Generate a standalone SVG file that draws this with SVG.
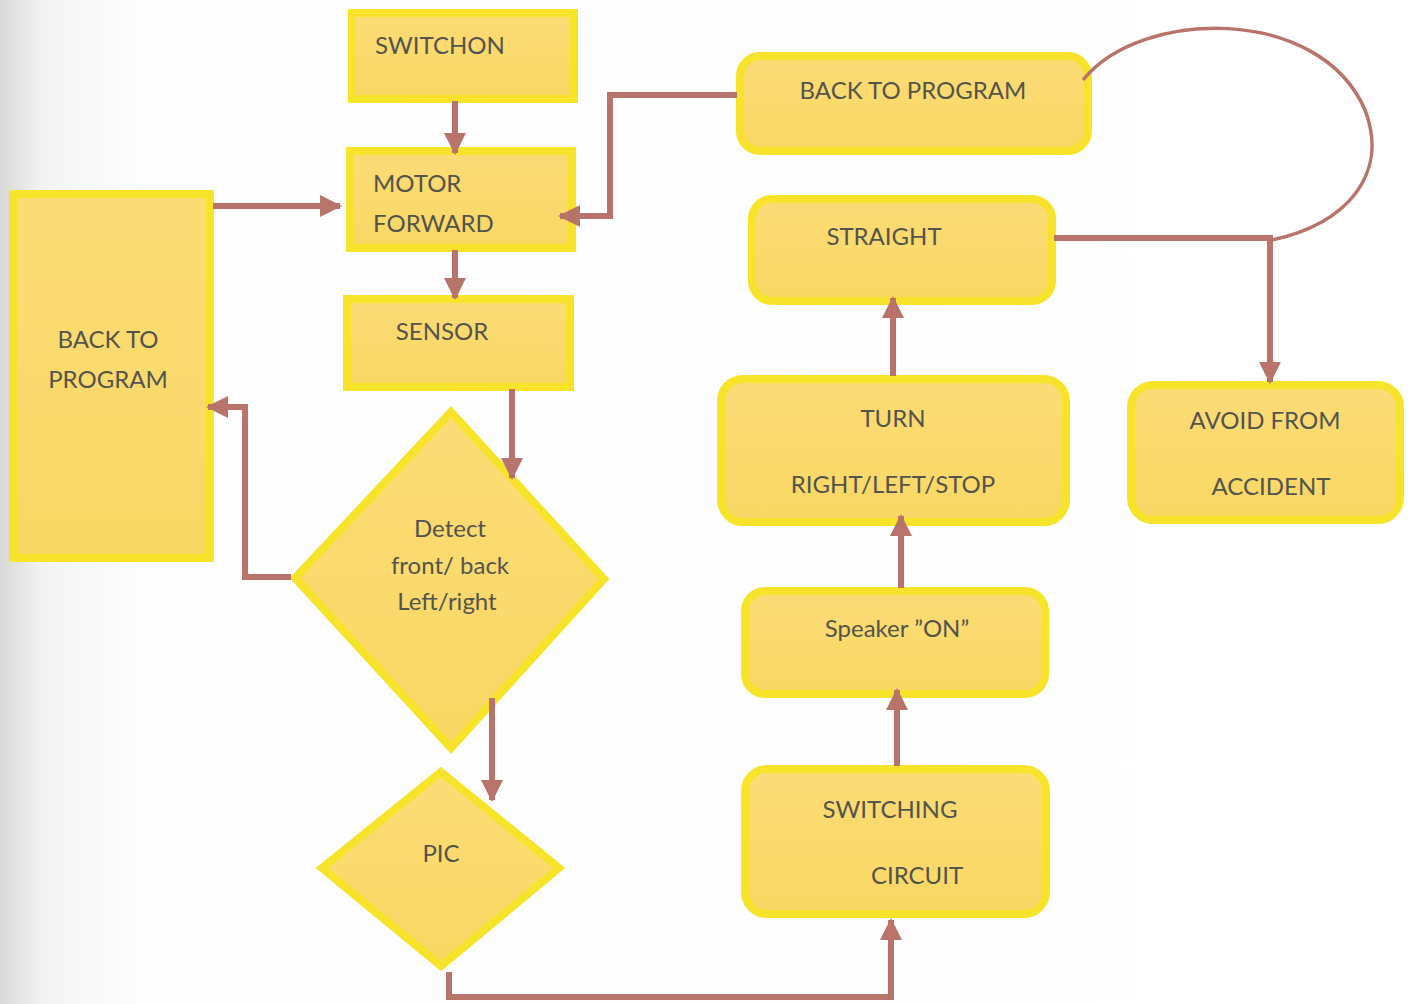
<svg xmlns="http://www.w3.org/2000/svg" width="1414" height="1004" viewBox="0 0 1414 1004">
<defs>
<linearGradient id="bg" x1="0" y1="0" x2="1" y2="0">
<stop offset="0" stop-color="#d8d8d8"/>
<stop offset="0.03" stop-color="#f3f3f3"/>
<stop offset="0.1" stop-color="#fdfdfd"/>
<stop offset="1" stop-color="#ffffff"/>
</linearGradient>
<linearGradient id="fill" x1="0" y1="0" x2="0" y2="1">
<stop offset="0" stop-color="#fbdb76"/>
<stop offset="1" stop-color="#fad864"/>
</linearGradient>
<marker id="ah" markerWidth="24" markerHeight="24" refX="20" refY="12" orient="auto" markerUnits="userSpaceOnUse">
<path d="M0,1 L22,12 L0,23 Z" fill="#b8736a"/>
</marker>
</defs>
<style>
.box{fill:url(#fill);stroke:#f6e32a;stroke-width:8}
.t{font-family:Lato,"Open Sans","Liberation Sans",sans-serif;font-size:24px;fill:#55544c}
.c{fill:none;stroke:#b8736a;stroke-width:6}
</style>
<rect width="1414" height="1004" fill="url(#bg)"/>
<g id="switchon">
<rect class="box" x="352" y="13" width="222" height="86"/>
<text class="t" x="375" y="54">SWITCHON</text>
</g>
<g id="motor">
<rect class="box" x="350" y="151" width="222" height="97"/>
<text class="t" x="373" y="192">MOTOR</text>
<text class="t" x="373" y="232">FORWARD</text>
</g>
<g id="sensor">
<rect class="box" x="347" y="299" width="223" height="88"/>
<text class="t" x="442" y="340" text-anchor="middle">SENSOR</text>
</g>
<g id="back-left">
<rect class="box" x="13" y="194" width="197" height="364"/>
<text class="t" x="108" y="348" text-anchor="middle">BACK TO</text>
<text class="t" x="108" y="388" text-anchor="middle">PROGRAM</text>
</g>
<g id="detect">
<polygon class="box" points="451,412 604,579 451,748 295,578"/>
<text class="t" x="450" y="537" text-anchor="middle" font-size="22">Detect</text>
<text class="t" x="450" y="574" text-anchor="middle" font-size="22">front/ back</text>
<text class="t" x="447" y="610" text-anchor="middle" font-size="22">Left/right</text>
</g>
<g id="pic">
<polygon class="box" points="441,772 559,868 441,966 322,868"/>
<text class="t" x="441" y="862" text-anchor="middle">PIC</text>
</g>
<g id="back-program">
<rect class="box" x="740" y="56" width="348" height="95" rx="20"/>
<text class="t" x="913" y="99" text-anchor="middle">BACK TO PROGRAM</text>
</g>
<g id="straight">
<rect class="box" x="752" y="199" width="300" height="102" rx="20"/>
<text class="t" x="884" y="245" text-anchor="middle">STRAIGHT</text>
</g>
<g id="turn">
<rect class="box" x="721" y="379" width="345" height="143" rx="22"/>
<text class="t" x="893" y="427" text-anchor="middle">TURN</text>
<text class="t" x="893" y="493" text-anchor="middle">RIGHT/LEFT/STOP</text>
</g>
<g id="avoid">
<rect class="box" x="1131" y="385" width="269" height="135" rx="22"/>
<text class="t" x="1265" y="429" text-anchor="middle">AVOID FROM</text>
<text class="t" x="1271" y="495" text-anchor="middle">ACCIDENT</text>
</g>
<g id="speaker">
<rect class="box" x="745" y="591" width="300" height="103" rx="20"/>
<text class="t" x="897" y="637" text-anchor="middle">Speaker  ”ON”</text>
</g>
<g id="switching">
<rect class="box" x="745" y="769" width="301" height="145" rx="22"/>
<text class="t" x="890" y="818" text-anchor="middle">SWITCHING</text>
<text class="t" x="917" y="884" text-anchor="middle">CIRCUIT</text>
</g>
<g id="connectors">
<path class="c" d="M455,101 L455,153" marker-end="url(#ah)"/>
<path class="c" d="M455,250 L455,298" marker-end="url(#ah)"/>
<path class="c" d="M213,206 L340,206" marker-end="url(#ah)"/>
<path class="c" d="M737,95 L610,95 L610,216 L560,216" marker-end="url(#ah)"/>
<path class="c" d="M512,389 L512,478" marker-end="url(#ah)"/>
<path class="c" d="M291,577 L245,577 L245,407 L208,407" marker-end="url(#ah)"/>
<path class="c" d="M492,698 L492,800" marker-end="url(#ah)"/>
<path class="c" d="M449,972 L449,997 L891,997 L891,920" marker-end="url(#ah)"/>
<path class="c" d="M897,766 L897,690" marker-end="url(#ah)"/>
<path class="c" d="M901,588 L901,516" marker-end="url(#ah)"/>
<path class="c" d="M893,376 L893,298" marker-end="url(#ah)"/>
<path class="c" d="M1054,238 L1270,238 L1270,382" marker-end="url(#ah)"/>
<path class="c" style="stroke-width:3.5" d="M1083,80 C1140,8 1320,5 1365,110 C1390,175 1345,225 1272,240"/>
</g>
</svg>
